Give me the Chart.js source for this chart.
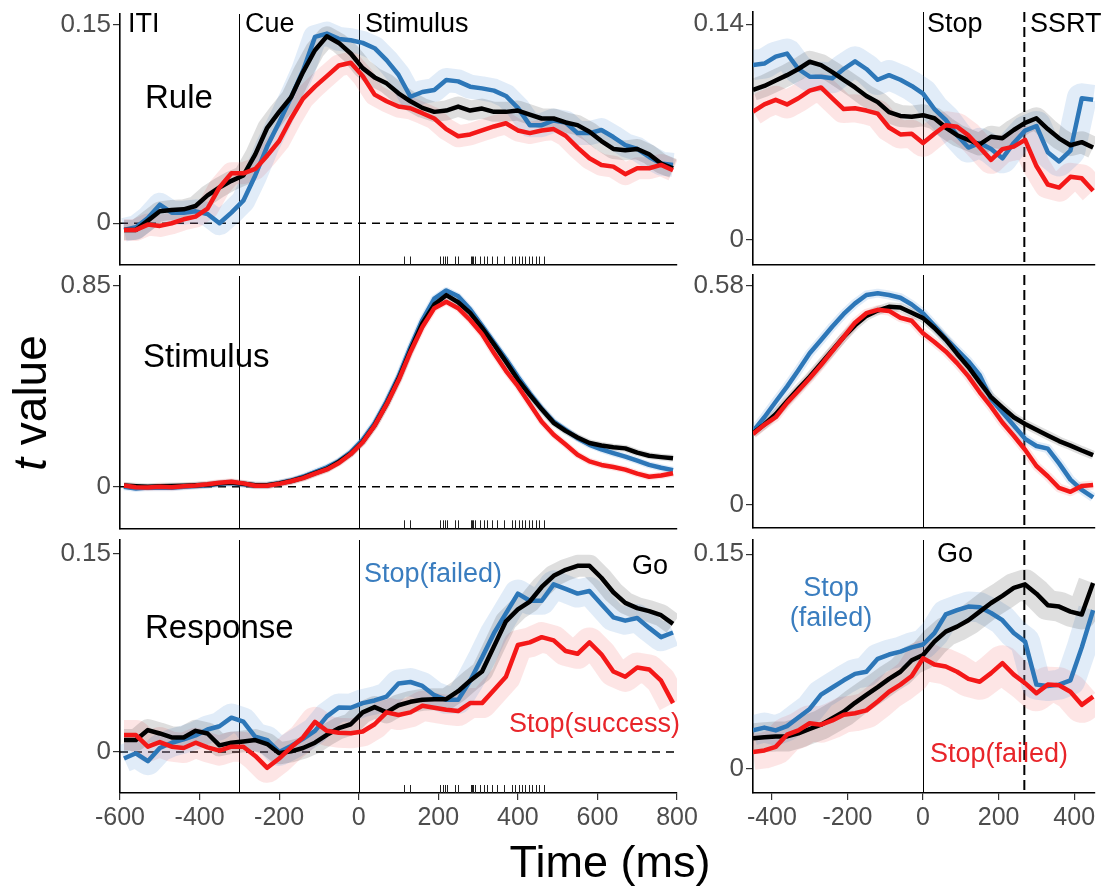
<!DOCTYPE html>
<html>
<head>
<meta charset="utf-8">
<script src="https://cdn.jsdelivr.net/npm/chart.js@4.4.1/dist/chart.umd.min.js"></script>
<style>
  body { margin: 0; background: #fff; }
  #fig { position: relative; width: 1110px; height: 890px; overflow: hidden;
         font-family: "Liberation Sans", Arial, Helvetica, sans-serif; }
  .panel { position: absolute; }
  .lbl { position: absolute; line-height: 1; white-space: nowrap; color: #000; }
  .blue { color: #3a7dbf; }
  .red { color: #e8252a; }
</style>
</head>
<body>
<div id="fig">
  <div class="panel" id="w1"><canvas id="c1"></canvas></div>
  <div class="panel" id="w2"><canvas id="c2"></canvas></div>
  <div class="panel" id="w3"><canvas id="c3"></canvas></div>
  <div class="panel" id="w4"><canvas id="c4"></canvas></div>
  <div class="panel" id="w5"><canvas id="c5"></canvas></div>
  <div class="panel" id="w6"><canvas id="c6"></canvas></div>

  <div class="lbl" style="left:128px;top:10px;font-size:27px">ITI</div>
  <div class="lbl" style="left:245px;top:10px;font-size:27px">Cue</div>
  <div class="lbl" style="left:365px;top:10px;font-size:27px">Stimulus</div>
  <div class="lbl" style="left:927px;top:10px;font-size:27px">Stop</div>
  <div class="lbl" style="left:1030px;top:10px;font-size:27px">SSRT</div>

  <div class="lbl" style="left:145px;top:80px;font-size:33px">Rule</div>
  <div class="lbl" style="left:143px;top:339px;font-size:33px">Stimulus</div>
  <div class="lbl" style="left:145px;top:610px;font-size:33px">Response</div>

  <div class="lbl blue" style="left:364px;top:560px;font-size:27px">Stop(failed)</div>
  <div class="lbl" style="left:632px;top:552px;font-size:27px">Go</div>
  <div class="lbl red" style="left:509px;top:710px;font-size:27px">Stop(success)</div>

  <div class="lbl" style="left:937px;top:540px;font-size:27px">Go</div>
  <div class="lbl blue" style="left:781px;width:100px;text-align:center;top:574px;font-size:27px">Stop</div>
  <div class="lbl blue" style="left:781px;width:100px;text-align:center;top:604px;font-size:27px">(failed)</div>
  <div class="lbl red" style="left:930px;top:740px;font-size:27px">Stop(failed)</div>

  <div class="lbl" style="left:-120px;top:380px;width:300px;height:46px;line-height:46px;text-align:center;font-size:46px;transform:rotate(-90deg)"><i>t</i> value</div>
  <div class="lbl" style="left:410px;top:839px;width:400px;text-align:center;font-size:45px">Time (ms)</div>
</div>

<script>
// time grids (ms)
const leftTimes = [-590,-560,-530,-500,-470,-440,-410,-380,-350,-320,-290,-260,-230,-200,-170,-140,-110,-80,-50,-20,
  10,40,70,100,130,160,190,220,250,280,310,340,370,400,430,460,490,520,550,580,610,640,670,700,730,760,790];
const rightTimes = [-450,-420,-390,-360,-330,-300,-270,-240,-210,-180,-150,-120,-90,-60,-30,
  0,30,60,90,120,150,180,210,240,270,300,330,360,390,420,450];

const leftXTicks = [-600,-400,-200,0,200,400,600,800];
const rightXTicks = [-400,-200,0,200,400];
const leftEvents = [-300, 0];      // cue, stimulus onsets
const rightEvents = [0];           // stop signal
const ssrtTimes = [268];           // dashed SSRT line
const rugTimes = [115,130,205,212,218,223,243,250,281,285,288,293,306,314,323,335,348,364,386,394,
  402,411,419,427,436,445,452,465];

// y tick labels per panel
const ruleTicks = [0, 0.15];
const stimTicks = [0, 0.85];
const respTicks = [0, 0.15];
const stopRuleTicks = [0, 0.14];
const stopStimTicks = [0, 0.58];
const stopRespTicks = [0, 0.15];

// Rule (cue-locked)
const ruleGo = [-.005,-.005,.002,.009,.010,.0105,.013,.021,.027,.032, .036,.052,.072,.084,.095,.114,.1305,.141,.136,.128,
  .117,.110,.1055,.098,.092,.087,.084,.085,.088,.085, .0865,.084,.084,.085,.082,.079,.079,.076,.074,.069,
  .062,.056,.055,.056,.052,.045,.0415];
const ruleStopFailed = [-.005,-.003,.004,.014,.008,.008,.009,.007,.0,.008, .017,.036,.058,.076,.095,.115,.1405,.143,.139,.138,
  .136,.132,.123,.112,.0954,.099,.1005,.108,.107,.103, .1017,.100,.096,.087,.074,.074,.0775,.076,.068,.068,
  .0703,.065,.059,.056,.050,.045,.044];
const ruleStopSuccess = [-.005,-.005,-.001,-.002,.0,.003,.005,.011,.027,.0377, .0377,.041,.051,.062,.079,.094,.103,.111,.119,.121,
  .111,.097,.092,.088,.0867,.083,.079,.071,.0656,.067, .070,.073,.0754,.070,.068,.070,.071,.066,.057,.049,
  .044,.0427,.037,.0415,.0415,.044,.040];

// Stimulus
const stimGo = [.005,.002,.0,.002,.003,.004,.006,.008,.014,.018, .012,.006,.006,.014,.024,.038,.057,.075,.105,.14,
  .19,.26,.35,.455,.577,.69,.77,.81,.78,.735, .672,.602,.529,.453,.388,.327,.27,.236,.208,.185,
  .174,.167,.162,.144,.131,.125,.12];
const stimStopFailed = [.0,-.008,-.004,-.003,-.005,.0,.003,.006,.012,.016, .01,.006,.006,.015,.026,.042,.062,.082,.108,.145,
  .198,.268,.36,.465,.59,.705,.795,.83,.805,.75, .68,.61,.54,.465,.395,.33,.275,.24,.205,.177,
  .158,.142,.127,.11,.092,.08,.07];
const stimStopSuccess = [.005,-.002,-.003,.0,-.002,.002,.005,.01,.017,.021, .014,.004,.004,.012,.023,.036,.055,.073,.1,.138,
  .188,.258,.348,.45,.57,.675,.755,.782,.755,.705, .645,.565,.49,.425,.35,.275,.22,.178,.135,.107,
  .092,.083,.072,.055,.042,.047,.057];

// Response
const respGo = [.009,.009,.0166,.014,.011,.011,.016,.014,.005,.007, .008,.009,.006,-.001,.0005,.003,.007,.013,.018,.021,
  .030,.034,.030,.0354,.038,.0395,.040,.040,.046,.054, .061,.080,.099,.108,.114,.125,.1335,.138,.141,.141,
  .132,.121,.113,.109,.1067,.1036,.097];
const respStopFailed = [-.005,-.001,-.007,.003,.007,.0095,.0125,.017,.0195,.026, .023,.0115,.009,.000,.0045,.010,.016,.027,.0337,.0335,
  .037,.039,.042,.0518,.053,.050,.043,.0395,.0395,.054, .0715,.090,.105,.120,.1146,.1146,.127,.1235,.120,.122,
  .112,.102,.0995,.1015,.094,.087,.0905];
const respStopSuccess = [.0128,.0128,.004,.0075,.004,.003,.007,.0035,.001,.004, .004,-.003,-.012,-.005,.0035,.011,.0228,.016,.0145,.0141,
  .0155,.021,.030,.028,.030,.035,.0335,.032,.031,.037, .037,.047,.057,.081,.083,.087,.0845,.0765,.0744,.083,
  .074,.061,.057,.064,.0625,.054,.037];

// Stop-locked, Rule
const stopRuleGo = [.0974,.1,.1035,.107,.111,.1157,.1135,.109,.104,.099, .0935,.0895,.083,.0805,.08,
  .081,.079,.073,.068,.065,.062,.067,.066,.0714,.076,.079,.072,.066,.0615,.0635,.06];
const stopRuleFailed = [.1136,.1145,.119,.121,.111,.106,.106,.105,.111,.116, .111,.104,.107,.104,.1,
  .095,.085,.078,.068,.06,.063,.059,.053,.063,.071,.074,.057,.051,.058,.092,.091];
const stopRuleSuccess = [.0833,.088,.091,.088,.092,.097,.099,.092,.085,.0855, .084,.082,.073,.0685,.069,
  .063,.069,.0745,.0735,.068,.06,.052,.059,.0606,.065,.048,.036,.034,.041,.04,.032];

// Stop-locked, Stimulus
const stopStimGo = [.19,.213,.24,.274,.307,.339,.374,.409,.444,.475, .5,.514,.524,.522,.508,
  .494,.468,.437,.4,.365,.324,.285,.258,.232,.214,.199,.184,.169,.157,.144,.132];
const stopStimFailed = [.195,.232,.273,.313,.356,.401,.436,.472,.505,.533, .555,.56,.555,.548,.53,
  .507,.474,.44,.41,.38,.343,.28,.245,.21,.175,.156,.149,.11,.067,.04,.02];
const stopStimSuccess = [.188,.212,.232,.27,.302,.335,.37,.407,.444,.482, .507,.516,.513,.495,.487,
  .454,.431,.406,.375,.34,.298,.26,.218,.183,.146,.103,.076,.045,.035,.05,.053];

// Stop-locked, Response
const stopRespGo = [.0215,.0222,.0227,.0228,.025,.028,.031,.0355,.040,.0463, .0518,.0572,.063,.068,.076,
  .0797,.089,.096,.0995,.104,.110,.116,.121,.1265,.129,.1225,.1145,.1135,.11,.108,.13];
const stopRespFailed = [.027,.029,.027,.030,.036,.042,.052,.057,.062,.0665, .068,.077,.080,.082,.085,
  .087,.095,.108,.111,.1135,.113,.109,.104,.095,.089,.059,.058,.059,.062,.085,.111];
const stopRespSuccess = [.012,.013,.0155,.024,.027,.032,.031,.034,.038,.039, .041,.0472,.054,.059,.065,
  .0774,.073,.0716,.068,.063,.061,.067,.074,.066,.060,.053,.059,.0585,.054,.0449,.0506];

const FONT = '"Liberation Sans", Arial, Helvetica, sans-serif';
const BLUE = '#2d77b8';
const RED = '#f41818';
const BLACK = '#000000';
const BAND = {
    go: 'rgba(0, 0, 0, 0.13)',
    failed: 'rgba(90, 150, 215, 0.18)',
    success: 'rgba(245, 100, 100, 0.17)'
};

const panels = [
    { id: 'c1', wrap: 'w1', left: 0, top: 0, width: 700, height: 276, padTop: 14, xHeight: 11.5, yWidth: 120, padRight: 23,
      times: leftTimes, xMin: -600, xMax: 800, yMin: -0.0311, yMax: 0.1578, yTicks: ruleTicks,
      go: ruleGo, failed: ruleStopFailed, success: ruleStopSuccess, band: [20, 24, 22],
      solid: leftEvents, dashed: [], zero: true, rug: true, xTicks: null },
    { id: 'c2', wrap: 'w2', left: 0, top: 264, width: 700, height: 276, padTop: 12, xHeight: 11.7, yWidth: 120, padRight: 23,
      times: leftTimes, xMin: -600, xMax: 800, yMin: -0.176, yMax: 0.891, yTicks: stimTicks,
      go: stimGo, failed: stimStopFailed, success: stimStopSuccess, band: [7, 7, 7],
      solid: leftEvents, dashed: [], zero: true, rug: true, xTicks: null },
    { id: 'c3', wrap: 'w3', left: 0, top: 530, width: 700, height: 360, padTop: 10, xHeight: 97, yWidth: 120, padRight: 23,
      times: leftTimes, xMin: -600, xMax: 800, yMin: -0.0311, yMax: 0.1606, yTicks: respTicks,
      go: respGo, failed: respStopFailed, success: respStopSuccess, band: [22, 28, 30],
      solid: leftEvents, dashed: [], zero: true, rug: true, xTicks: leftXTicks },
    { id: 'c4', wrap: 'w4', left: 653, top: 0, width: 457, height: 276, padTop: 12, xHeight: 11.7, yWidth: 100, padRight: 15,
      times: rightTimes, xMin: -450, xMax: 455, yMin: -0.0158, yMax: 0.148, yTicks: stopRuleTicks,
      go: stopRuleGo, failed: stopRuleFailed, success: stopRuleSuccess, band: [22, 30, 28],
      solid: rightEvents, dashed: ssrtTimes, zero: false, rug: false, xTicks: null },
    { id: 'c5', wrap: 'w5', left: 653, top: 264, width: 457, height: 276, padTop: 11, xHeight: 12.3, yWidth: 100, padRight: 15,
      times: rightTimes, xMin: -450, xMax: 455, yMin: -0.060, yMax: 0.608, yTicks: stopStimTicks,
      go: stopStimGo, failed: stopStimFailed, success: stopStimSuccess, band: [9, 9, 9],
      solid: rightEvents, dashed: ssrtTimes, zero: false, rug: false, xTicks: null },
    { id: 'c6', wrap: 'w6', left: 653, top: 530, width: 457, height: 360, padTop: 10, xHeight: 97, yWidth: 100, padRight: 15,
      times: rightTimes, xMin: -450, xMax: 455, yMin: -0.0167, yMax: 0.16, yTicks: stopRespTicks,
      go: stopRespGo, failed: stopRespFailed, success: stopRespSuccess, band: [30, 30, 36],
      solid: rightEvents, dashed: ssrtTimes, zero: false, rug: false, xTicks: rightXTicks }
];

// reference lines, zero line and rug ticks
const guidePlugin = {
    id: 'guides',
    beforeDatasetsDraw(chart, args, opts) {
        const { ctx, chartArea: a, scales: { x, y } } = chart;
        ctx.save();
        ctx.strokeStyle = '#000';

        ctx.lineWidth = 1;
        opts.solid.forEach((t) => {
            const px = Math.round(x.getPixelForValue(t)) + 0.5;
            ctx.beginPath();
            ctx.moveTo(px, a.top);
            ctx.lineTo(px, a.bottom);
            ctx.stroke();
        });

        ctx.lineWidth = 2;
        ctx.setLineDash([10, 5]);
        opts.dashed.forEach((t) => {
            const px = x.getPixelForValue(t);
            ctx.beginPath();
            ctx.moveTo(px, a.top);
            ctx.lineTo(px, a.bottom);
            ctx.stroke();
        });

        if (opts.zero) {
            const py = y.getPixelForValue(0);
            ctx.lineWidth = 1.5;
            ctx.setLineDash([8, 6]);
            ctx.beginPath();
            ctx.moveTo(a.left, py);
            ctx.lineTo(a.right, py);
            ctx.stroke();
        }
        ctx.setLineDash([]);

        if (opts.rug) {
            ctx.lineWidth = 1;
            ctx.strokeStyle = '#222';
            rugTimes.forEach((t) => {
                const px = Math.round(x.getPixelForValue(t)) + 0.5;
                ctx.beginPath();
                ctx.moveTo(px, a.bottom - 8);
                ctx.lineTo(px, a.bottom);
                ctx.stroke();
            });
        }
        ctx.restore();
    }
};

const toPoints = (times, values) => times.map((t, i) => ({ x: t, y: values[i] }));

const lineSet = (times, values, color, width, order) => ({
    data: toPoints(times, values),
    borderColor: color,
    borderWidth: width,
    pointRadius: 0,
    tension: 0,
    fill: false,
    order,
    borderJoinStyle: 'round',
    borderCapStyle: 'butt'
});

panels.forEach((p) => {
    const wrap = document.getElementById(p.wrap);
    wrap.style.left = p.left + 'px';
    wrap.style.top = p.top + 'px';
    wrap.style.width = p.width + 'px';
    wrap.style.height = p.height + 'px';

    const showX = Array.isArray(p.xTicks);

    new Chart(document.getElementById(p.id), {
        type: 'line',
        data: {
            datasets: [
                lineSet(p.times, p.success, RED, 4.5, 0),
                lineSet(p.times, p.go, BLACK, 4.5, 1),
                lineSet(p.times, p.failed, BLUE, 4.5, 2),
                lineSet(p.times, p.go, BAND.go, p.band[0], 3),
                lineSet(p.times, p.failed, BAND.failed, p.band[1], 4),
                lineSet(p.times, p.success, BAND.success, p.band[2], 5)
            ]
        },
        options: {
            responsive: true,
            maintainAspectRatio: false,
            animation: false,
            events: [],
            layout: { padding: { top: p.padTop, right: p.padRight, left: 0, bottom: 0 } },
            plugins: {
                legend: { display: false },
                tooltip: { enabled: false },
                guides: { solid: p.solid, dashed: p.dashed, zero: p.zero, rug: p.rug }
            },
            scales: {
                x: {
                    type: 'linear',
                    min: p.xMin,
                    max: p.xMax,
                    grid: { display: showX, drawOnChartArea: false, drawTicks: true, tickLength: 7, color: '#333', lineWidth: 1.2 },
                    border: { display: true, color: '#000', width: 1.6 },
                    ticks: {
                        display: showX,
                        autoSkip: false,
                        maxRotation: 0,
                        padding: 3,
                        color: '#4d4d4d',
                        font: { family: FONT, size: 25 },
                        callback: (v) => String(v)
                    },
                    afterBuildTicks: (s) => { s.ticks = (p.xTicks || []).map((v) => ({ value: v })); },
                    afterFit: (s) => { s.height = p.xHeight; s.paddingLeft = 0; s.paddingRight = 0; }
                },
                y: {
                    type: 'linear',
                    min: p.yMin,
                    max: p.yMax,
                    grid: { display: true, drawOnChartArea: false, drawTicks: true, tickLength: 7, color: '#333', lineWidth: 1.2 },
                    border: { display: true, color: '#000', width: 1.6 },
                    ticks: {
                        autoSkip: false,
                        padding: 2,
                        color: '#4d4d4d',
                        font: { family: FONT, size: 26 },
                        callback: (v) => String(v)
                    },
                    afterBuildTicks: (s) => { s.ticks = p.yTicks.map((v) => ({ value: v })); },
                    afterFit: (s) => { s.width = p.yWidth; s.paddingTop = 0; s.paddingBottom = 0; }
                }
            }
        },
        plugins: [guidePlugin]
    });
});
</script>
</body>
</html>
